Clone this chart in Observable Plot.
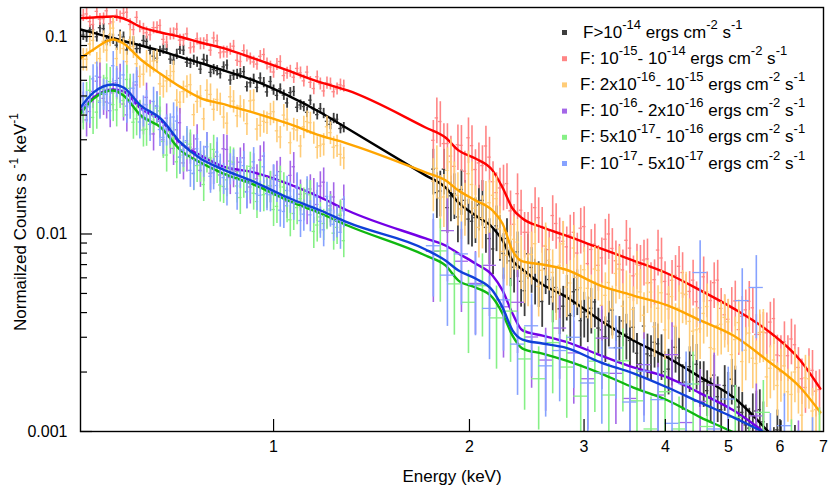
<!DOCTYPE html>
<html><head><meta charset="utf-8">
<script src="https://cdn.jsdelivr.net/npm/d3@7"></script>
<script src="https://cdn.jsdelivr.net/npm/@observablehq/plot@0.6"></script>
<style>
body{margin:0;background:#fff;}
</style></head><body><div id="chart"></div>
<script>
// ---- energy grids (keV) ----
const eLow = [0.510,0.522,0.535,0.548,0.561,0.574,0.588,0.602,0.616,0.631,0.646,0.662,0.677,0.694,0.710,0.727,0.745,0.763,0.781,0.800,0.819,0.838,0.858,0.879,0.900,0.921,0.943,0.966,0.989,1.012,1.037,1.061,1.087,1.113,1.139,1.167,1.194,1.223,1.252,1.282];
const eLowMid = [0.516,0.528,0.541,0.554,0.567,0.581,0.595,0.609,0.623,0.638,0.654,0.669,0.685,0.702,0.718,0.736,0.754,0.772,0.790,0.809,0.828,0.848,0.868,0.889,0.910,0.932,0.954,0.977,1.000,1.024,1.049,1.074,1.100,1.126,1.153,1.180,1.208,1.237,1.267];
const eHigh = [1.760,1.804,1.850,1.896,1.944,1.993,2.043,2.094,2.147,2.201,2.256,2.313,2.371,2.431,2.492,2.555,2.619,2.685,2.752,2.822,2.893,2.965,3.040,3.117,3.195,3.275,3.358,3.442,3.529,3.618,3.709,3.802,3.898,3.996,4.096,4.199,4.305,4.413,4.524,4.638,4.755,4.874,4.997,5.123,5.251,5.383,5.519,5.658,5.800,5.946,6.096,6.249,6.406,6.567,6.733,6.902];
const eHighMid = [1.782,1.827,1.873,1.920,1.968,2.018,2.068,2.120,2.174,2.228,2.284,2.342,2.401,2.461,2.523,2.587,2.652,2.718,2.787,2.857,2.929,3.002,3.078,3.156,3.235,3.316,3.400,3.485,3.573,3.663,3.755,3.850,3.946,4.046,4.147,4.252,4.359,4.468,4.581,4.696,4.814,4.935,5.060,5.187,5.317,5.451,5.588,5.729,5.873,6.021,6.172,6.327,6.486,6.650,6.817];
const eHighA = [1.760,1.850,1.944,2.043,2.147,2.256,2.371,2.492,2.619,2.752,2.893,3.040,3.195,3.358,3.529,3.709,3.898,4.096,4.305,4.524,4.755,4.997,5.251,5.519,5.800,6.096,6.406,6.733];
const eHighB = [1.804,1.896,1.993,2.094,2.201,2.313,2.431,2.555,2.685,2.822,2.965,3.117,3.275,3.442,3.618,3.802,3.996,4.199,4.413,4.638,4.874,5.123,5.383,5.658,5.946,6.249,6.567,6.902];
const binFine = 1.0122, binCoarse = 1.0509;
const eModel = [0.505,0.529,0.566,0.588,0.625,0.671,0.720,0.772,0.829,0.932,1.051,1.181,1.299,1.712,1.837,1.924,2.043,2.170,2.248,2.329,2.413,2.590,2.809,3.180,3.573,4.030,4.529,5.088,5.739,6.450,6.922];

// ---- F > 1e-14 (black) ----
const blackLow = [0.1016,0.1078,0.0997,0.1096,0.0979,0.0904,0.0994,0.0940,0.0868,0.0955,0.0852,0.0777,0.0864,0.0768,0.0813,0.0852,0.0732,0.0742,0.0767,0.0658,0.0672,0.0702,0.0602,0.0644,0.0664,0.0583,0.0552,0.0585,0.0592,0.0503,0.0505,0.0520,0.0438,0.0442,0.0476,0.0402,0.0408,0.0359,0.0381,0.0346];
const blackLowMid = [0.0993,0.1080,0.1108,0.0954,0.0969,0.1017,0.0855,0.0941,0.0869,0.0945,0.0795,0.0843,0.0863,0.0759,0.0862,0.0741,0.0759,0.0683,0.0758,0.0681,0.0648,0.0717,0.0637,0.0650,0.0557,0.0608,0.0617,0.0524,0.0536,0.0543,0.0461,0.0527,0.0450,0.0413,0.0430,0.0432,0.0372,0.0385,0.0342];
const blackHigh = [0.0213,0.0165,0.0136,0.0160,0.0168,0.0119,0.0121,0.0148,0.00948,0.0110,0.00797,0.00731,0.00812,0.00516,0.00677,0.00574,0.00667,0.00480,0.00418,0.00490,0.00510,0.00364,0.00381,0.00453,0.00327,0.00362,0.00266,0.00363,0.00289,0.00249,0.00342,0.00242,0.00278,0.00201,0.00230,0.00236,0.00178,0.00243,0.00179,0.00161,0.00193,0.00129,0.00158,0.00170,0.00125,0.00104,0.00127,0.00112,0.000765,0.00102,0.00068,0.00069,0.00070,0.00060,null,null];
const blackHighMid = [0.0162,0.0213,0.0156,0.0122,0.0148,0.0116,0.0140,0.0108,0.00840,0.00984,0.00949,0.00679,0.00576,0.00794,0.00591,0.00455,0.00588,0.00536,0.00431,0.00387,0.00522,0.00402,0.00421,0.00334,0.00302,0.00412,0.00303,0.00311,0.00337,0.00220,0.00247,0.00283,0.00245,0.00207,0.00267,0.00173,0.00213,0.00219,0.00179,0.00149,0.00150,0.00171,0.00184,0.00133,0.00108,0.00123,0.00129,0.00087,0.00083,0.00090,0.00060,0.00085,0.00061,null,null];
const blackModel = [0.1085,0.1042,0.0983,0.0949,0.0900,0.0845,0.0786,0.0734,0.0681,0.0599,0.0503,0.0412,0.0342,0.0198,0.0172,0.0144,0.01241,0.01079,0.00927,0.00734,0.00661,0.00555,0.00483,0.00365,0.00289,0.00237,0.00188,0.00149,0.00101,0.00064,0.00047];

// ---- 1e-15 - 1e-14 (red) ----
const redLow = [0.128,0.119,0.134,0.123,0.116,0.128,0.131,0.115,0.125,0.109,0.102,0.111,0.0967,0.103,0.109,0.0960,0.0876,0.0974,0.0921,0.0853,0.0951,0.0836,0.0864,0.0758,0.0848,0.0771,0.0725,0.0810,0.0701,0.0723,0.0634,0.0668,0.0689,0.0596,0.0586,0.0625,0.0530,0.0576,0.0543,0.0562];
const redLowMid = [0.1301,0.1150,0.1223,0.1349,0.1185,0.1258,0.1327,0.1083,0.1122,0.1044,0.1108,0.1137,0.0936,0.1034,0.0958,0.1031,0.0886,0.0920,0.0957,0.0983,0.0827,0.0835,0.0893,0.0747,0.0799,0.0743,0.0794,0.0728,0.0661,0.0747,0.0653,0.0622,0.0655,0.0660,0.0545,0.0576,0.0582,0.0525,0.0569];
const redHigh = [0.0298,0.0371,0.0287,0.0220,0.0281,0.0307,0.0212,0.0222,0.0245,0.0162,0.0177,0.0131,0.0160,0.0102,0.0113,0.0121,0.00868,0.0124,0.00956,0.00861,0.0102,0.0107,0.00708,0.00888,0.00757,0.0100,0.00732,0.00658,0.00848,0.00705,0.00738,0.00567,0.00829,0.00575,0.00583,0.00686,0.00495,0.00584,0.00423,0.00509,0.00567,0.00420,0.00370,0.00458,0.00383,0.00456,0.00310,0.00318,0.00358,0.00244,0.00285,0.00294,0.00211,0.00167,0.00204,0.00163];
const redHighMid = [0.0387,0.0287,0.0248,0.0283,0.0208,0.0280,0.0229,0.0279,0.0184,0.0171,0.0180,0.0112,0.0132,0.0102,0.0136,0.0108,0.00834,0.0113,0.00918,0.00988,0.00801,0.0109,0.00835,0.00694,0.00941,0.00845,0.00703,0.00929,0.00614,0.00694,0.00748,0.00587,0.00756,0.00496,0.00617,0.00638,0.00512,0.00454,0.00607,0.00460,0.00584,0.00390,0.00425,0.00328,0.00413,0.00423,0.00310,0.00316,0.00373,0.00242,0.00242,0.00275,0.00185,0.00208,0.00160];
const redModel = [0.1238,0.1248,0.1263,0.1233,0.1117,0.1048,0.0994,0.0932,0.0880,0.0774,0.0673,0.0585,0.0533,0.0346,0.0308,0.0265,0.0241,0.0210,0.0172,0.01346,0.01198,0.01079,0.00983,0.00845,0.00734,0.00631,0.00518,0.00420,0.00325,0.00229,0.00165];

// ---- 2e-16 - 1e-15 (orange) ----
const orangeLow = [0.0769,0.0916,0.0735,0.0945,0.1020,0.0773,0.0869,0.0962,0.0728,0.0644,0.0716,0.0755,0.0560,0.0633,0.0476,0.0526,0.0570,0.0469,0.0383,0.0509,0.0480,0.0391,0.0495,0.0397,0.0424,0.0472,0.0340,0.0372,0.0406,0.0333,0.0400,0.0290,0.0336,0.0349,0.0366,0.0275,0.0285,0.0326,0.0280,0.0243];
const orangeLowMid = [0.0767,0.0955,0.0773,0.0853,0.1102,0.0934,0.0746,0.0889,0.0628,0.0751,0.0750,0.0576,0.0596,0.0665,0.0465,0.0560,0.0402,0.0500,0.0534,0.0428,0.0457,0.0364,0.0471,0.0444,0.0362,0.0476,0.0355,0.0367,0.0416,0.0310,0.0381,0.0341,0.0279,0.0371,0.0327,0.0280,0.0349,0.0275,0.0253];
const orangeHigh = [0.0185,0.0152,0.0210,0.0178,0.0134,0.0202,0.0135,0.0120,0.0144,0.0151,0.00816,0.00851,0.00910,0.00634,0.00787,0.00543,0.00874,0.00639,0.00694,0.00539,0.00849,0.00534,0.00531,0.00665,0.00435,0.00568,0.00631,0.00431,0.00478,0.00627,0.00388,0.00508,0.00421,0.00327,0.00482,0.00421,0.00493,0.00322,0.00331,0.00429,0.00262,0.00349,0.00359,0.00292,0.00226,0.00315,0.00221,0.00319,0.00209,0.00171,0.00215,0.00154,0.00175,0.00187,0.00127,0.00097];
const orangeHighMid = [0.0215,0.0154,0.0232,0.0157,0.0139,0.0178,0.0108,0.0142,0.0157,0.0106,0.00780,0.00940,0.00747,0.00611,0.00893,0.00655,0.00735,0.00521,0.00891,0.00565,0.00603,0.00659,0.00474,0.00654,0.00489,0.00419,0.00665,0.00500,0.00415,0.00509,0.00565,0.00339,0.00504,0.00417,0.00341,0.00502,0.00361,0.00327,0.00396,0.00266,0.00344,0.00378,0.00245,0.00356,0.00258,0.00235,0.00317,0.00189,0.00230,0.00201,0.00159,0.00200,0.00121,0.00185,0.00129];
const orangeModel = [0.0777,0.0860,0.0965,0.0922,0.0765,0.0646,0.0554,0.0488,0.0458,0.0412,0.0363,0.0315,0.0287,0.0205,0.0187,0.0166,0.0148,0.01315,0.01130,0.00825,0.00726,0.00701,0.00661,0.00548,0.00488,0.00435,0.00365,0.00306,0.00229,0.00167,0.00125];

// ---- 1e-16 - 2e-16 (purple) ----
const purpleLow = [0.0443,0.0417,0.0594,0.0486,0.0421,0.0583,0.0455,0.0517,0.0568,0.0387,0.0403,0.0445,0.0300,0.0309,0.0337,0.0229,0.0275,0.0303,0.0224,0.0203,0.0247,0.0270,0.0193,0.0207,0.0243,0.0173,0.0190,0.0248,0.0175,0.0198,0.0157,0.0198,0.0171,0.0142,0.0169,0.0141,0.0183,0.0139,0.0116,0.0150];
const purpleLowMid = [0.0378,0.0527,0.0622,0.0466,0.0518,0.0614,0.0401,0.0497,0.0400,0.0492,0.0321,0.0372,0.0386,0.0271,0.0366,0.0251,0.0269,0.0210,0.0277,0.0217,0.0199,0.0268,0.0209,0.0231,0.0164,0.0216,0.0237,0.0167,0.0189,0.0207,0.0146,0.0219,0.0159,0.0136,0.0162,0.0175,0.0130,0.0154,0.0124];
const purpleHigh = [0.00818,0.0104,0.00728,0.00562,0.00694,0.00428,0.00451,0.00301,0.00230,0.00334,0.00250,0.00185,0.00297,0.00197,0.00147,0.00218,0.00153,0.00245,0.00111,0.00142,0.00172,0.00093,0.00075,0.00120,0.00071,0.00050,0.00078,0.00055];
const purpleModel = [0.0417,0.0491,0.0539,0.0527,0.0432,0.0376,0.0287,0.0250,0.0222,0.0205,0.0180,0.0153,0.01315,0.00949,0.00875,0.00797,0.00709,0.00617,0.00518,0.00396,0.00325,0.00306,0.00285,0.00243,0.00211,0.00188,0.00156,0.00128,0.00097,0.00074,0.00063];

// ---- 5e-17 - 1e-16 (green) ----
const greenLow = [0.0410,0.0534,0.0414,0.0539,0.0591,0.0425,0.0474,0.0546,0.0383,0.0336,0.0383,0.0434,0.0294,0.0330,0.0232,0.0251,0.0285,0.0222,0.0178,0.0243,0.0220,0.0174,0.0234,0.0175,0.0185,0.0220,0.0146,0.0158,0.0176,0.0138,0.0173,0.0118,0.0136,0.0145,0.0158,0.0111,0.0113,0.0134,0.0108,0.00925];
const greenLowMid = [0.0496,0.0389,0.0472,0.0616,0.0452,0.0527,0.0606,0.0368,0.0403,0.0339,0.0396,0.0420,0.0251,0.0306,0.0245,0.0291,0.0202,0.0223,0.0248,0.0268,0.0177,0.0188,0.0231,0.0153,0.0188,0.0161,0.0197,0.0164,0.0133,0.0187,0.0139,0.0127,0.0151,0.0160,0.0103,0.0122,0.0128,0.0101,0.0126];
const greenHigh = [0.00821,0.00559,0.00451,0.00547,0.00376,0.00407,0.00233,0.00185,0.00282,0.00212,0.00151,0.00227,0.00153,0.00228,0.00143,0.00103,0.00159,0.00103,0.00174,0.00106,0.00062,0.00118,0.00075,0.00125,0.00063,0.00079,0.00050,0.00091];
const greenModel = [0.0407,0.0485,0.0533,0.0503,0.0398,0.0346,0.0265,0.0230,0.0205,0.0178,0.0148,0.01270,0.01104,0.00778,0.00693,0.00581,0.00536,0.00477,0.00396,0.00306,0.00263,0.00248,0.00229,0.00197,0.00167,0.00144,0.00118,0.00099,0.00080,0.00065,0.00057];

// ---- 1e-17 - 5e-17 (blue) ----
const blueLow = [0.0494,0.0440,0.0630,0.0516,0.0460,0.0597,0.0639,0.0465,0.0590,0.0424,0.0359,0.0443,0.0308,0.0344,0.0373,0.0265,0.0210,0.0270,0.0236,0.0196,0.0260,0.0193,0.0216,0.0161,0.0222,0.0181,0.0160,0.0219,0.0158,0.0176,0.0130,0.0155,0.0173,0.0126,0.0125,0.0154,0.0105,0.0132,0.0117,0.0131];
const blueLowMid = [0.0446,0.0610,0.0464,0.0509,0.0711,0.0558,0.0444,0.0547,0.0369,0.0451,0.0469,0.0338,0.0340,0.0391,0.0245,0.0297,0.0203,0.0249,0.0276,0.0204,0.0215,0.0169,0.0226,0.0207,0.0163,0.0232,0.0157,0.0160,0.0190,0.0132,0.0166,0.0143,0.0117,0.0165,0.0138,0.0116,0.0155,0.0112,0.0102];
const blueHigh = [0.00872,0.00619,0.00793,0.00555,0.00420,0.00464,0.00277,0.00343,0.00215,0.00257,0.00300,0.00176,0.00198,0.00265,0.00141,0.00202,0.00145,0.00110,0.00174,0.00638,0.00103,0.00146,0.00460,0.00536,0.00085,0.00107,0.00070,0.00081];
const blueModel = [0.0437,0.0521,0.0571,0.0552,0.0447,0.0384,0.0290,0.0241,0.0215,0.0184,0.0153,0.01315,0.01144,0.00835,0.00734,0.00653,0.00595,0.00518,0.00425,0.00325,0.00292,0.00279,0.00266,0.00224,0.00197,0.00167,0.00140,0.00118,0.00097,0.00078,0.00069];

// fractional error bars per series (low band, high band)
const errLow = [0.06, 0.07, 0.13, 0.18, 0.18, 0.18];
const errHigh = [0.26, 0.26, 0.30, 0.45, 0.45, 0.45];

const dataColors = ["#3d3d3d", "#ff8585", "#ffcc78", "#a466e8", "#86f086", "#86a2ff"];
const lineColors = ["#000000", "#ff0000", "#ffa500", "#7300e6", "#10b810", "#1040d8"];

const legendLabels = [
  [["F>10",0],["-14",1],[" ergs cm",0],["-2",1],[" s",0],["-1",1]],
  [["F: 10",0],["-15",1],["- 10",0],["-14",1],[" ergs cm",0],["-2",1],[" s",0],["-1",1]],
  [["F: 2x10",0],["-16",1],["- 10",0],["-15",1],[" ergs cm",0],["-2",1],[" s",0],["-1",1]],
  [["F: 10",0],["-16",1],["- 2x10",0],["-16",1],[" ergs cm",0],["-2",1],[" s",0],["-1",1]],
  [["F: 5x10",0],["-17",1],["- 10",0],["-16",1],[" ergs cm",0],["-2",1],[" s",0],["-1",1]],
  [["F: 10",0],["-17",1],["- 5x10",0],["-17",1],[" ergs cm",0],["-2",1],[" s",0],["-1",1]]
];

const yMajor = [0.1, 0.01, 0.001];
const yTickLabels = ["0.1", "0.01", "0.001"];
const yMinor = [0.002,0.003,0.004,0.005,0.006,0.007,0.008,0.009,0.02,0.03,0.04,0.05,0.06,0.07,0.08,0.09];
const xTicks = [1, 2, 3, 4, 5, 6, 7];
const xTickLabels = ["1", "2", "3", "4", "5", "6", "7"];
const xTitle = "Energy (keV)";
const yTitle = [["Normailzed Counts s ",0],["-1",1],[" keV",0],["-1",1]];

const series = [
  {low: [[eLow, blackLow], [eLowMid, blackLowMid]], high: [[eHigh, blackHigh, binFine], [eHighMid, blackHighMid, binFine]], model: blackModel},
  {low: [[eLow, redLow], [eLowMid, redLowMid]], high: [[eHigh, redHigh, binFine], [eHighMid, redHighMid, binFine]], model: redModel},
  {low: [[eLow, orangeLow], [eLowMid, orangeLowMid]], high: [[eHigh, orangeHigh, binFine], [eHighMid, orangeHighMid, binFine]], model: orangeModel},
  {low: [[eLow, purpleLow], [eLowMid, purpleLowMid]], high: [[eHighA, purpleHigh, binCoarse]], model: purpleModel},
  {low: [[eLow, greenLow], [eLowMid, greenLowMid]], high: [[eHighB, greenHigh, binCoarse]], model: greenModel},
  {low: [[eLow, blueLow], [eLowMid, blueLowMid]], high: [[eHighA, blueHigh, binCoarse]], model: blueModel}
];

const W = 831, H = 487, mL = 80, mR = 8, mT = 7, mB = 56;
const innerW = W - mL - mR, innerH = H - mT - mB;
const FONT = "'Liberation Sans', Arial, Helvetica, sans-serif";

const marks = [];
series.forEach((s, k) => {
  const rows = [];
  s.low.forEach(([grid, vals]) => grid.forEach((e, i) => { if (vals[i] != null) rows.push({e, v: vals[i], err: errLow[k], bin: binFine}); }));
  s.high.forEach(([grid, vals, bin]) => grid.forEach((e, i) => { if (vals[i] != null) rows.push({e, v: vals[i], err: errHigh[k], bin}); }));
  marks.push(Plot.ruleX(rows, {x: "e", y1: d => d.v * (1 - d.err), y2: d => d.v * (1 + d.err), stroke: dataColors[k], strokeWidth: k === 0 ? 1.8 : 1.6, clip: true}));
  marks.push(Plot.ruleY(rows, {y: "v", x1: d => d.e / Math.sqrt(d.bin), x2: d => d.e * Math.sqrt(d.bin), stroke: dataColors[k], strokeWidth: 1.3, clip: true}));
  marks.push(Plot.line(eModel.map((e, i) => ({e, v: s.model[i]})), {x: "e", y: "v", stroke: lineColors[k], strokeWidth: 2.4, curve: "monotone-x", clip: true}));
});

marks.push(Plot.tickY(yMajor, {y: d => d, insetRight: innerW - 12, stroke: "black", strokeWidth: 1.2}));
marks.push(Plot.tickY(yMinor, {y: d => d, insetRight: innerW - 7, stroke: "black", strokeWidth: 1.2}));
marks.push(Plot.tickX(xTicks.filter(d => d < 7), {x: d => d, insetTop: innerH - 12, stroke: "black", strokeWidth: 1.2}));
marks.push(Plot.text(yMajor, {y: d => d, text: (d, i) => yTickLabels[i], frameAnchor: "left", textAnchor: "end", dx: -13, fontSize: 16, fill: "black"}));
marks.push(Plot.text(xTicks, {x: d => d, text: (d, i) => xTickLabels[i], frameAnchor: "bottom", lineAnchor: "top", dy: 9, fontSize: 16, fill: "black"}));
marks.push(Plot.text([xTitle], {text: d => d, frameAnchor: "bottom", lineAnchor: "bottom", dy: 50, fontSize: 17, fill: "black"}));
marks.push(Plot.frame({stroke: "black", strokeWidth: 1.4}));

const chart = Plot.plot({
  width: W, height: H,
  marginLeft: mL, marginRight: mR, marginTop: mT, marginBottom: mB,
  style: {fontFamily: FONT, fontSize: "16px", background: "white", overflow: "visible"},
  x: {type: "log", domain: [0.505, 7.0], axis: null},
  y: {type: "log", domain: [0.001, 0.1402], axis: null},
  marks
});
document.getElementById("chart").appendChild(chart);

// superscript-aware text helper
function richText(sel, parts, supSize, shift) {
  let raised = false;
  parts.forEach(([str, sup]) => {
    const ts = sel.append("tspan").text(str);
    if (sup) {
      ts.attr("font-size", supSize);
      if (!raised) { ts.attr("dy", -shift); raised = true; }
    } else if (raised) { ts.attr("dy", shift); raised = false; }
  });
}

const svg = d3.select(chart);
// legend (inside the frame, top right)
const leg = svg.append("g").attr("font-family", FONT).attr("font-size", 17).attr("fill", "black").attr("text-anchor", "start");
legendLabels.forEach((parts, k) => {
  const base = 37.5 + k * 26.2;
  leg.append("rect").attr("x", 562).attr("y", base - 7.5).attr("width", 5).attr("height", 5).attr("fill", dataColors[k]);
  const t = leg.append("text").attr("x", k === 0 ? 583 : 580).attr("y", base).attr("text-anchor", "start").style("white-space", "pre");
  richText(t, parts, 13, 9);
});
// y title
const yt = svg.append("text")
  .attr("transform", "translate(26,222) rotate(-90)")
  .attr("text-anchor", "middle").attr("font-family", FONT).attr("font-size", 17).attr("fill", "black")
  .style("white-space", "pre");
richText(yt, yTitle, 12, 8);
</script>
</body></html>
